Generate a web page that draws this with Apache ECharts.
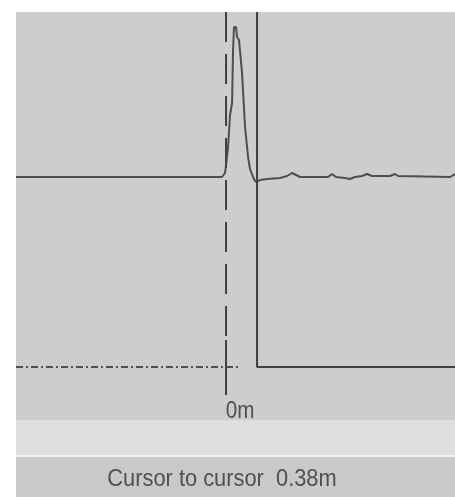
<!DOCTYPE html>
<html><head><meta charset="utf-8">
<script src="https://cdn.jsdelivr.net/npm/echarts@6/dist/echarts.min.js"></script>
<style>html,body{margin:0;padding:0;background:#fff}#c{width:455px;height:497px}</style>
</head><body><div id="c"></div>
<script>
// TDR trace: distance in metres, level in arbitrary units (baseline 0)
const traceX = [-2.574,-0.196,-0.172,-0.147,-0.049,-0.025,-0.012,0.0,0.025,0.049,0.074,0.086,0.098,0.110,0.123,0.135,0.159,0.196,0.233,0.270,0.294,0.331,0.355,0.380,0.417,0.502,0.662,0.748,0.809,0.858,0.907,1.250,1.299,1.348,1.458,1.520,1.581,1.667,1.728,1.789,2.010,2.071,2.108,2.745,2.806];
const traceY = [0,0,2,0,0,2,4,12,30,62,74,127,150,152,150,140,137,104,50,20,8,0,-4,-5,-3,-2,-1,1,4,2,0,0,3,0,-1,-2,0,1,3,1,1,3,1,0,3];
// cursors
const cursorA = 0;        // dashed cursor (m)
const cursorB = 0.38;     // solid cursor (m)
const cursorLevel = -190; // horizontal level of cursor foot
const dashDotEnd = 0.184;
const cursorATop = 165, cursorASolidFrom = -163, cursorABottom = -218;
const xMin = -2.574, xMax = 2.806, yMin = -243, yMax = 165;
const zeroLabel = '0m';
const statusText = 'Cursor to cursor  0.38m';

const chart = echarts.init(document.getElementById('c'), null, {renderer:'canvas'});
const lineCol = '#4e4e4e';
const txtFont = '24px "Liberation Sans", Arial, sans-serif';
chart.setOption({
  animation:false,
  backgroundColor:'#ffffff',
  graphic:[
    {type:'rect', z:-10, shape:{x:16,y:12,width:439,height:408}, style:{fill:'#cdcdcd'}},
    {type:'rect', z:-10, shape:{x:16,y:420,width:439,height:35}, style:{fill:'#dedede'}},
    {type:'rect', z:-10, shape:{x:16,y:455,width:439,height:2}, style:{fill:'#f2f2f2'}},
    {type:'rect', z:-10, shape:{x:16,y:457,width:439,height:40}, style:{fill:'#c9c9c9'}},
    {type:'text', x:240, y:411, scaleX:0.86, style:{text:zeroLabel, fill:'#505050', font:txtFont, align:'center', verticalAlign:'middle'}},
    {type:'text', x:222, y:479, scaleX:0.91, style:{text:statusText, fill:'#505050', font:txtFont, align:'center', verticalAlign:'middle'}}
  ],
  grid:{left:16, right:0, top:12, height:408},
  xAxis:{type:'value', min:xMin, max:xMax, show:false},
  yAxis:{type:'value', min:yMin, max:yMax, show:false},
  series:[
    {type:'line', data:traceX.map((x,i)=>[x,traceY[i]]), showSymbol:false, lineStyle:{color:lineCol, width:2}},
    {type:'line', data:[[cursorB,yMax],[cursorB,cursorLevel],[xMax,cursorLevel]], showSymbol:false, lineStyle:{color:'#404040', width:2}},
    {type:'line', data:[[cursorA,cursorATop],[cursorA,cursorASolidFrom]], showSymbol:false, lineStyle:{color:'#404040', width:2, type:[30,12]}},
    {type:'line', data:[[cursorA,cursorASolidFrom],[cursorA,cursorABottom]], showSymbol:false, lineStyle:{color:'#404040', width:2}},
    {type:'line', data:[[xMin,cursorLevel],[dashDotEnd,cursorLevel]], showSymbol:false, lineStyle:{color:'#505050', width:2, type:[7,3,2,3]}}
  ]
});
</script></body></html>
